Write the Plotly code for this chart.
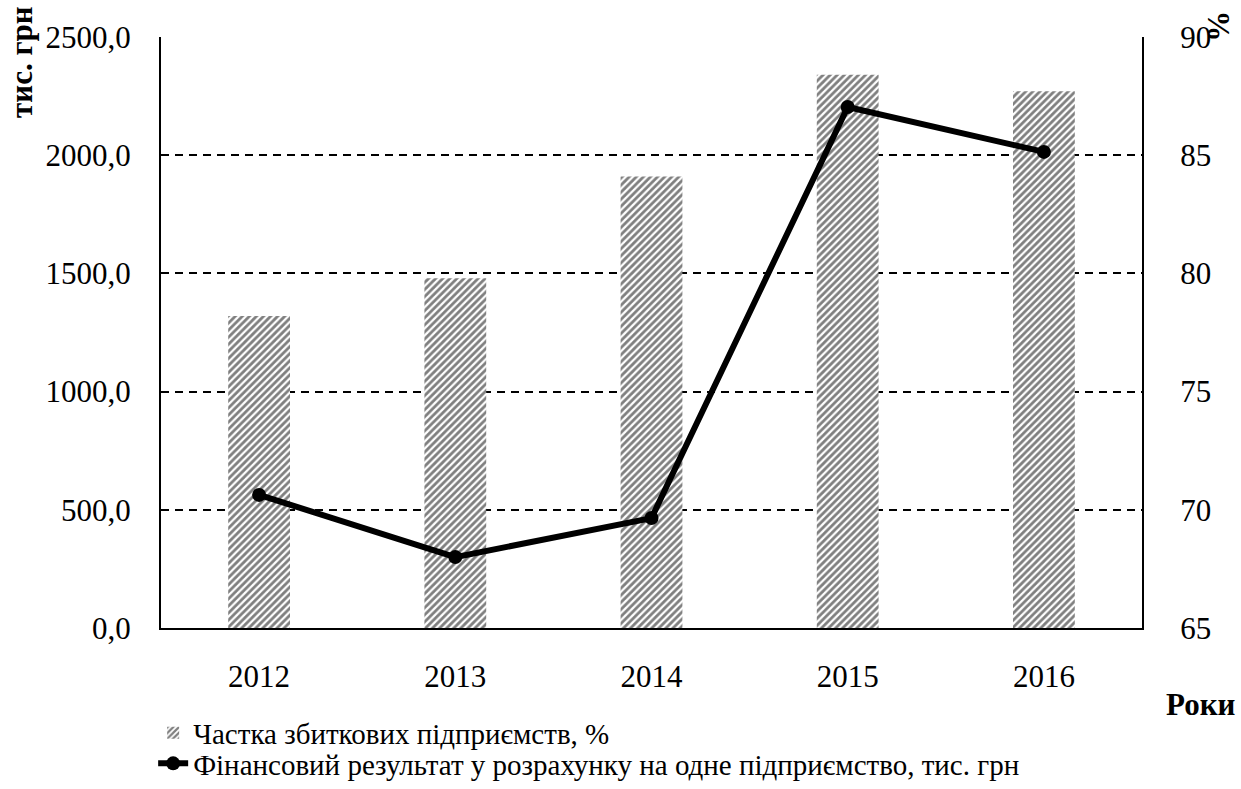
import plotly.graph_objects as go

years = ["2012", "2013", "2014", "2015", "2016"]
loss_share_pct = [78.2, 79.8, 84.1, 88.4, 87.7]
result_per_firm = [563, 300, 465, 2204, 2014]

left_ticks = [0, 500, 1000, 1500, 2000, 2500]
right_ticks = [65, 70, 75, 80, 85, 90]

FONT = "Liberation Serif, Times New Roman, serif"

fig = go.Figure()

# hatched bars on the percent scale (right side)
fig.add_trace(go.Bar(
    x=years, y=loss_share_pct, yaxis="y",
    name="Частка збиткових підприємств, %",
    legend="legend",
    marker=dict(color="white", line=dict(width=0),
                pattern=dict(shape="/", size=5, solidity=0.55,
                             fgcolor="black", bgcolor="white")),
))

# line on the money scale (left side), drawn above the bars
fig.add_trace(go.Scatter(
    x=years, y=result_per_firm, yaxis="y2",
    name="Фінансовий результат у розрахунку на одне підприємство, тис. грн",
    legend="legend2",
    mode="lines+markers",
    line=dict(color="black", width=6),
    marker=dict(color="black", size=14),
))

legend_style = dict(xanchor="left", orientation="v",
                    font=dict(size=29, family=FONT),
                    bgcolor="rgba(0,0,0,0)")

fig.update_layout(
    width=1241, height=789,
    margin=dict(l=161, r=99, t=37, b=161, autoexpand=False),
    paper_bgcolor="white", plot_bgcolor="white",
    separators=",.",
    font=dict(family=FONT, size=31, color="black"),
    bargap=0.685,
    showlegend=True,
    legend=dict(x=-0.008, y=-0.1777, yanchor="middle", **legend_style),
    legend2=dict(x=-0.008, y=-0.2724, yanchor="bottom", **legend_style),
    xaxis=dict(showline=True, linecolor="black", linewidth=2,
               ticks="", ticklabelstandoff=20,
               tickfont=dict(size=31)),
    yaxis=dict(range=[65, 90], tickvals=right_ticks, tickformat="d",
               side="right",
               showline=True, linecolor="black", linewidth=2,
               showgrid=True, gridcolor="black", gridwidth=1.5,
               griddash="8px,6px", zeroline=False, ticks="",
               ticklabelstandoff=30, tickfont=dict(size=31)),
    yaxis2=dict(range=[0, 2500], tickvals=left_ticks, tickformat=".1f",
                overlaying="y", side="left",
                showline=True, linecolor="black", linewidth=2,
                showgrid=False, zeroline=False, ticks="",
                ticklabelstandoff=22, tickfont=dict(size=31)),
    annotations=[
        dict(text="<b>тис. грн</b>", xref="paper", yref="paper",
             x=-0.1417, y=1.056, xanchor="center", yanchor="top",
             textangle=-90, showarrow=False, font=dict(size=31)),
        dict(text="<b>%</b>", xref="paper", yref="paper",
             x=1.078, y=1.048, xanchor="center", yanchor="top",
             textangle=-90, showarrow=False, font=dict(size=31)),
        dict(text="<b>Роки</b>", xref="paper", yref="paper",
             x=1.060, y=-0.130, xanchor="center", yanchor="middle",
             showarrow=False, font=dict(size=31)),
    ],
)

fig.write_html("out.html")
